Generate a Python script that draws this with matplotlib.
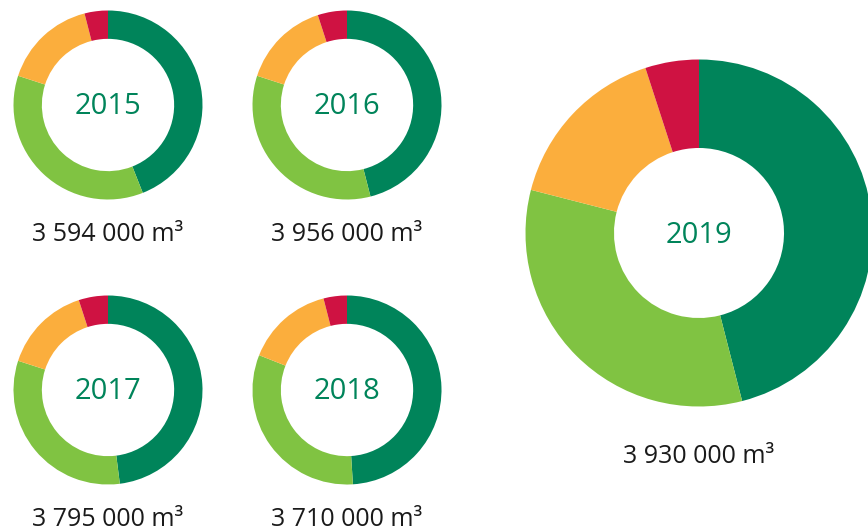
import matplotlib
matplotlib.use("Agg")
import matplotlib.pyplot as plt

years = ["2015", "2016", "2017", "2018", "2019"]
volumes = ["3 594 000 m³", "3 956 000 m³", "3 795 000 m³", "3 710 000 m³", "3 930 000 m³"]
dark_green = [44, 46, 48, 49, 46]
light_green = [36, 34, 32, 32, 33]
orange = [16, 15, 15, 15, 16]
red = [4, 5, 5, 4, 5]

colors = ["#00845A", "#80C342", "#FBAE3D", "#CF1242"]
W, H = 868, 529

# layout (pixel coordinates, y from top)
centers = [(108, 105), (347, 105), (108, 390), (347, 390), (699, 233)]
radii = [94.5, 94.5, 94.5, 94.5, 173.5]
holes = [0.70, 0.70, 0.70, 0.70, 0.49]
year_base = [114, 114, 399, 399, 243]
label_base = [241, 241, 526, 526, 463]

plt.rcParams['font.family'] = ['Open Sans', 'DejaVu Sans']
fig = plt.figure(figsize=(W / 100, H / 100), dpi=100)
ax = fig.add_axes([0, 0, 1, 1])

for i in range(len(years)):
    vals = [dark_green[i], light_green[i], orange[i], red[i]]
    cx, cy = centers[i]
    r = radii[i]
    ax.pie(vals, colors=colors, startangle=90, counterclock=False,
           center=(cx, H - cy), radius=r,
           wedgeprops=dict(width=r * (1 - holes[i]), linewidth=0))
    ax.text(cx, H - year_base[i], years[i], ha="center", va="baseline",
            fontsize=21, color="#00845A")
    ax.text(cx, H - label_base[i], volumes[i], ha="center", va="baseline",
            fontsize=18, color="#1a1a1a")

ax.set_xlim(0, W)
ax.set_ylim(0, H)
ax.set_aspect("equal")
ax.axis("off")
fig.savefig("out.png", dpi=100)
